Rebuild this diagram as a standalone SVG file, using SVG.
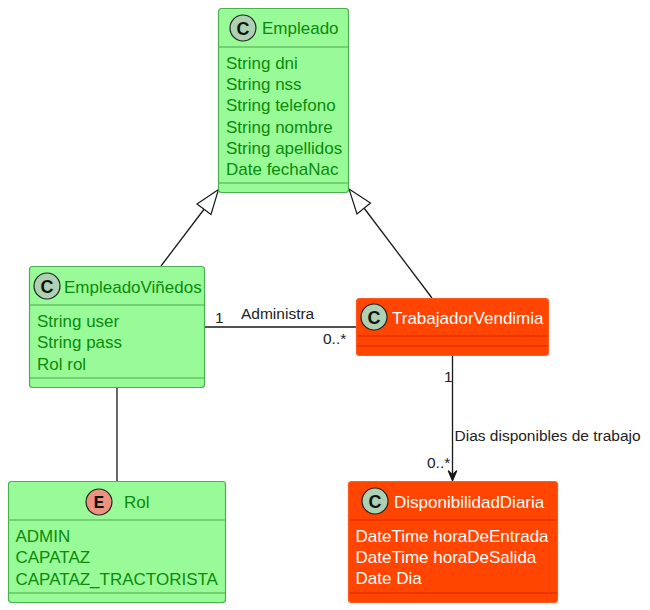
<svg xmlns="http://www.w3.org/2000/svg" width="650" height="610" viewBox="0 0 650 610">
<style>
text{font-family:"Liberation Sans",Arial,sans-serif;font-size:17px}
.g rect.b{fill:#98fb98;stroke:#4caf50;stroke-width:1.2}
.r rect.b{fill:#ff4500;stroke:#ff5a1f;stroke-width:1.2}
.g text{fill:#0b8a0b}
.r text{fill:#fff}
.g line{stroke:#66c566;stroke-width:1.5}
.r line{stroke:#e83000;stroke-width:1.5}
.spot{stroke:#222;stroke-width:1.2}
.c{fill:#add1b2}
.e{fill:#eb937f}
text.sp{font-weight:bold;font-size:18px;fill:#111;text-anchor:middle}
text.spe{font-family:"Liberation Mono",monospace;font-weight:bold;font-size:18px;fill:#111;text-anchor:middle}
.conn line{stroke:#181818;stroke-width:1.3;fill:none}
.conn polygon{fill:#fff;stroke:#181818;stroke-width:1.2}
.conn path{fill:#181818;stroke:#181818;stroke-width:1.5;stroke-linejoin:round}
.lbl{fill:#222;font-size:15.500px}
</style>
<g id="connectors" class="conn">
<line x1="161" y1="266" x2="205" y2="208"/>
<polygon points="218.500,189.500 197,204 211,214.500"/>
<line x1="432" y1="298" x2="364" y2="208"/>
<polygon points="349,189 370.500,203 357,214"/>
<line x1="205" y1="327" x2="356" y2="327"/>
<line x1="117" y1="388" x2="117" y2="481"/>
<line x1="452.500" y1="356" x2="452.500" y2="476"/>
<path d="M448.500 471L452.500 480.500L456.500 471L452.500 475Z"/>
<text class="lbl" x="215" y="323">1</text>
<text class="lbl" x="241" y="319">Administra</text>
<text class="lbl" x="323" y="344">0..*</text>
<text class="lbl" x="444" y="382">1</text>
<text class="lbl" x="454.500" y="441">Dias disponibles de trabajo</text>
<text class="lbl" x="427" y="468">0..*</text>
</g>
<g id="Empleado" class="g">
<rect class="b" x="218.500" y="8.500" width="130" height="184" rx="3"/>
<line x1="219" y1="47" x2="348" y2="47"/>
<line x1="219" y1="183" x2="348" y2="183"/>
<circle class="spot c" cx="243" cy="28" r="13"/>
<text class="sp" x="243" y="34.500">C</text>
<text x="262" y="34">Empleado</text>
<text x="226" y="69">String dni</text>
<text x="226" y="90">String nss</text>
<text x="226" y="111">String telefono</text>
<text x="226" y="133">String nombre</text>
<text x="226" y="154">String apellidos</text>
<text x="226" y="175">Date fechaNac</text>
</g>
<g id="EmpleadoVinedos" class="g">
<rect class="b" x="29.500" y="266.500" width="175" height="121" rx="3"/>
<line x1="30" y1="305" x2="204" y2="305"/>
<line x1="30" y1="378" x2="204" y2="378"/>
<circle class="spot c" cx="47" cy="286" r="13"/>
<text class="sp" x="47" y="292.500">C</text>
<text x="64" y="293">EmpleadoViñedos</text>
<text x="37" y="327">String user</text>
<text x="37" y="348">String pass</text>
<text x="37" y="370">Rol rol</text>
</g>
<g id="TrabajadorVendimia" class="r">
<rect class="b" x="356.500" y="298.500" width="192" height="57" rx="3"/>
<line x1="357" y1="336" x2="548" y2="336"/>
<line x1="357" y1="346" x2="548" y2="346"/>
<circle class="spot c" cx="374" cy="317" r="13"/>
<text class="sp" x="374" y="323.500">C</text>
<text x="392" y="324">TrabajadorVendimia</text>
</g>
<g id="Rol" class="g">
<rect class="b" x="8.500" y="481.500" width="217" height="121" rx="3"/>
<line x1="9" y1="520" x2="225" y2="520"/>
<line x1="9" y1="593" x2="225" y2="593"/>
<circle class="spot e" cx="99" cy="502" r="13"/>
<text class="spe" x="99" y="508">E</text>
<text x="124" y="508">Rol</text>
<text x="15.500" y="542">ADMIN</text>
<text x="15.500" y="563">CAPATAZ</text>
<text x="15.500" y="585">CAPATAZ_TRACTORISTA</text>
</g>
<g id="DisponibilidadDiaria" class="r">
<rect class="b" x="348.500" y="481.500" width="209" height="121" rx="3"/>
<line x1="349" y1="520" x2="557" y2="520"/>
<line x1="349" y1="593" x2="557" y2="593"/>
<circle class="spot c" cx="375" cy="501" r="13"/>
<text class="sp" x="375" y="507.500">C</text>
<text x="394" y="508">DisponibilidadDiaria</text>
<text x="355.500" y="542">DateTime horaDeEntrada</text>
<text x="355.500" y="563">DateTime horaDeSalida</text>
<text x="355.500" y="584">Date Dia</text>
</g>
</svg>
